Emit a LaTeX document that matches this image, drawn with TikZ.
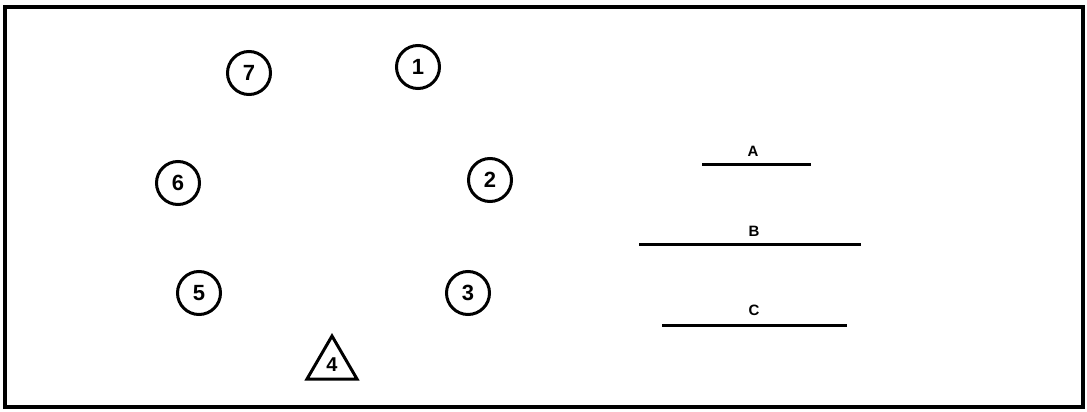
\documentclass[tikz,border=0pt]{standalone}
\usepackage{fontspec}
\setsansfont{Liberation Sans}
\begin{document}
\begin{tikzpicture}[x=1pt,y=-1pt,
  seat/.style={draw, circle, line width=3pt, minimum size=43pt, inner sep=0pt, font=\sffamily\bfseries\fontsize{22}{22}\selectfont},
  lbl/.style={font=\sffamily\bfseries\fontsize{15}{15}\selectfont, inner sep=0pt},
  bar/.style={line width=3pt},
  frame/.style={line width=3.2pt}]
\useasboundingbox (0,0) rectangle (1087,412);
\fill[white] (0,0) rectangle (1087,412);
\draw[frame] (5,7) rectangle (1083,407);
\node[seat] (s7) at (249,73) {7};
\node[seat] (s1) at (418,67) {1};
\node[seat] (s6) at (178,183) {6};
\node[seat] (s2) at (490,180) {2};
\node[seat] (s5) at (199,293) {5};
\node[seat] (s3) at (468,293) {3};
\draw[line width=3pt, line join=miter] (332,336) -- (357,379) -- (307,379) -- cycle;
\node[font=\sffamily\bfseries\fontsize{20}{20}\selectfont, inner sep=0pt] (s4) at (332,365) {4};
\node[lbl] (la) at (753,151) {A};
\coordinate (a1) at (702,164); \coordinate (a2) at (811,164);
\draw[bar] (a1) -- (a2);
\node[lbl] (lb) at (754,231) {B};
\coordinate (b1) at (639,244); \coordinate (b2) at (861,244);
\draw[bar] (b1) -- (b2);
\node[lbl] (lc) at (754,310) {C};
\coordinate (c1) at (662,325); \coordinate (c2) at (847,325);
\draw[bar] (c1) -- (c2);
\end{tikzpicture}
\end{document}
